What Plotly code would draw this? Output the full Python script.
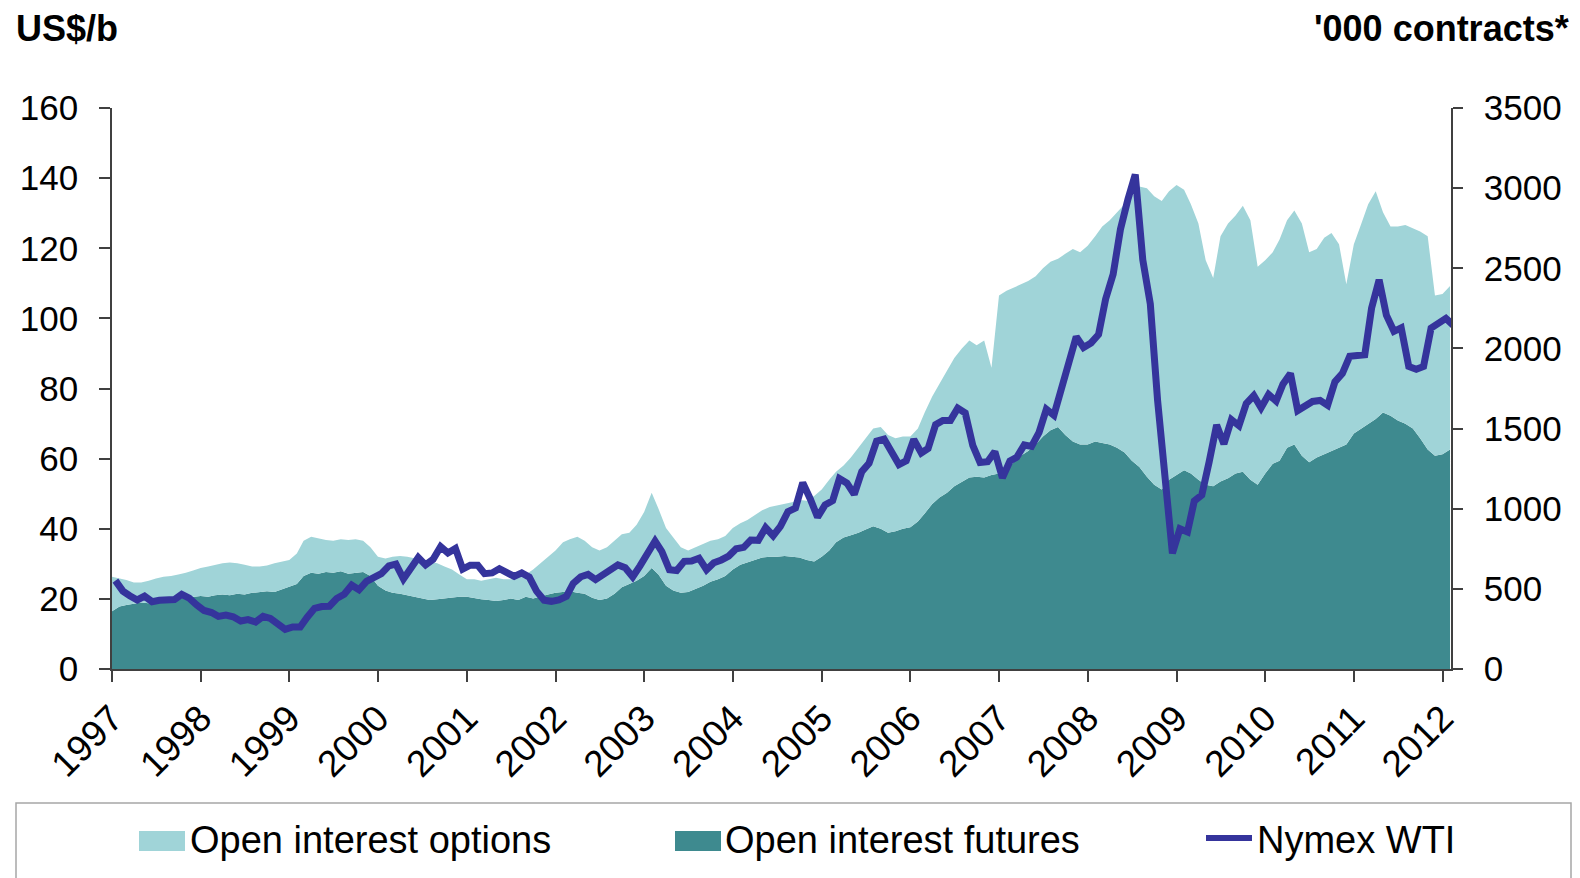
import pandas as pd
import plotly.graph_objects as go

# monthly readings, Jan 1997 .. Feb 2012
months = pd.date_range("1997-01-01", "2012-02-01", freq="MS")

# Nymex WTI, US$/b
wti = [
    25.2, 22.2, 20.9, 19.7, 20.8, 19.2, 19.6, 19.9, 19.8, 21.3, 20.2, 18.3,
    16.7, 16.1, 15.0, 15.4, 14.9, 13.7, 14.1, 13.4, 15.0, 14.4, 12.9, 11.3,
    12.0, 12.0, 14.7, 17.3, 17.8, 17.9, 20.1, 21.3, 23.9, 22.6, 25.0, 26.1,
    27.2, 29.4, 29.9, 25.7, 28.8, 31.8, 29.7, 31.3, 34.9, 33.1, 34.4, 28.5,
    29.6, 29.6, 27.2, 27.4, 28.6, 27.6, 26.4, 27.4, 26.2, 22.2, 19.6, 19.3,
    19.7, 20.7, 24.4, 26.3, 27.0, 25.5, 26.9, 28.4, 29.7, 28.9, 26.3, 29.4,
    32.9, 36.5, 33.5, 28.3, 28.1, 30.7, 30.8, 31.6, 28.3, 30.3, 31.1, 32.2,
    34.3, 34.7, 36.8, 36.7, 40.3, 38.0, 40.7, 44.9, 45.9, 53.1, 48.5, 43.3,
    46.8, 48.0, 54.3, 53.0, 49.8, 56.3, 58.7, 65.0, 65.6, 62.4, 58.3, 59.4,
    65.5, 61.6, 62.9, 69.7, 70.9, 70.9, 74.4, 73.0, 63.8, 58.9, 59.1, 62.0,
    54.5, 59.3, 60.4, 63.9, 63.5, 67.5, 74.1, 72.4, 79.9, 85.8, 94.8, 91.7,
    93.0, 95.4, 105.5, 112.6, 125.4, 134.0, 141.0, 116.7, 104.1, 76.6, 55.0, 33.0,
    40.0, 39.1, 47.9, 49.6, 59.0, 69.6, 64.2, 71.1, 69.4, 75.7, 78.0, 74.5,
    78.3, 76.4, 81.2, 84.3, 73.7, 75.3, 76.3, 76.6, 75.2, 81.9, 84.3, 89.2,
    89.5, 89.6, 102.9, 111.0, 100.9, 96.3, 97.3, 86.3, 85.5, 86.3, 97.2, 98.6,
    100.0, 98.0,
]

# open interest futures, '000 contracts
oi_futures = [
    360, 390, 400, 410, 415, 410, 420, 430, 425, 440, 445, 450,
    455, 450, 460, 465, 460, 470, 465, 475, 480, 485, 480, 495,
    510, 530, 580, 600, 595, 605, 600, 610, 595, 600, 605, 580,
    520, 490, 475, 470, 460, 450, 440, 430, 435, 440, 445, 450,
    450, 440, 435, 430, 425, 430, 440, 430, 450, 440, 455, 465,
    475, 480, 485, 475, 470, 445, 430, 440, 470, 510, 530, 550,
    580, 630, 590, 520, 490, 475, 480, 500, 520, 545, 560, 580,
    620, 650, 665, 680, 695, 700, 700, 705, 700, 695, 680, 670,
    700, 740, 790, 820, 835, 850, 870, 890, 875, 850, 860, 875,
    885, 920, 970, 1030, 1070, 1100, 1140, 1170, 1195, 1200, 1195, 1210,
    1220, 1250, 1290, 1330, 1360, 1400, 1450, 1490, 1510, 1460, 1420, 1400,
    1400, 1420, 1410, 1400, 1380, 1350, 1300, 1260, 1200, 1150, 1120, 1180,
    1210, 1240, 1220, 1180, 1150, 1140, 1170, 1190, 1220, 1230, 1180, 1150,
    1220, 1280, 1300, 1380, 1400, 1330, 1290, 1320, 1340, 1360, 1380, 1400,
    1470, 1500, 1530, 1560, 1600, 1580, 1550, 1530, 1500, 1440, 1370, 1330,
    1340, 1370,
]

# open interest futures + options (top of the stack), '000 contracts
oi_total = [
    575, 565, 555, 540, 540, 550, 565, 575, 580, 590, 600, 615,
    630, 640, 650, 660, 665, 660, 650, 640, 640, 645, 660, 670,
    680, 720, 800, 825, 815, 805, 800, 810, 805, 810, 800, 760,
    700, 690, 700, 705, 700, 690, 680, 670, 660, 640, 620, 590,
    560, 560, 550, 560, 570, 560, 560, 570, 590, 620, 660, 700,
    740, 790, 810, 825, 800, 760, 740, 760, 800, 840, 850, 900,
    980, 1100, 1000, 880, 820, 760, 740, 760, 780, 800, 810, 830,
    880, 910, 930, 960, 990, 1010, 1020, 1030, 1040, 1055, 1050, 1080,
    1120, 1180, 1230, 1270, 1320, 1380, 1440, 1500, 1510, 1460, 1440, 1450,
    1450, 1500, 1600, 1700, 1780, 1860, 1940, 2000, 2050, 2020, 2050, 1880,
    2330, 2360, 2380, 2400, 2420, 2450, 2500, 2540, 2560, 2590, 2620, 2600,
    2640, 2700, 2760, 2800, 2850, 2900, 2950, 3010, 3000, 2950, 2920, 2980,
    3020, 2990, 2900, 2780, 2550, 2440, 2700, 2780, 2830, 2890, 2800, 2510,
    2550, 2600, 2680, 2800, 2860, 2780, 2600, 2620, 2690, 2720, 2650, 2400,
    2650, 2780, 2900, 2980, 2850, 2760, 2760, 2770, 2750, 2730, 2700, 2330,
    2340, 2390,
]

years = list(range(1997, 2013))

FONT = "Liberation Sans, Arial, sans-serif"
C_OPT = "#A0D4D8"
C_FUT = "#3E8A8F"
C_WTI = "#35349C"
AXIS = "#404040"

# the page body adds an 8px margin, so the figure is laid out 8px smaller
OFF = 8
W, H = 1580 - OFF, 878 - OFF
L, R, T, B = 112 - OFF, 1451 - OFF, 108 - OFF, 669 - OFF


def px(x):
    # page pixel -> paper coordinate
    return (x - OFF - L) / (R - L)


def py(y):
    return (B - (y - OFF)) / (B - T)


fig = go.Figure()

fig.add_trace(go.Scatter(x=months, y=oi_futures, mode="lines", fill="tozeroy",
                         fillcolor=C_FUT, line=dict(width=0, color=C_FUT),
                         name="Open interest futures", yaxis="y"))
fig.add_trace(go.Scatter(x=months, y=oi_total, mode="lines", fill="tonexty",
                         fillcolor=C_OPT, line=dict(width=0, color=C_OPT),
                         name="Open interest options", yaxis="y"))
fig.add_trace(go.Scatter(x=months + pd.Timedelta(days=14), y=wti, mode="lines",
                         line=dict(width=7, color=C_WTI), name="Nymex WTI",
                         yaxis="y2"))

tick_font = dict(family=FONT, size=35, color="black")

fig.update_layout(
    width=W, height=H,
    margin=dict(l=L, r=W - R, t=T, b=H - B, autoexpand=False),
    paper_bgcolor="white", plot_bgcolor="white",
    showlegend=False,
    xaxis=dict(
        type="date", range=["1997-01-01", "2012-02-05"],
        tickvals=[f"{y}-01-01" for y in years], ticktext=[str(y) for y in years],
        tickangle=-45, tickfont=dict(family=FONT, size=37, color="black"),
        ticks="outside", ticklen=11,
        tickwidth=1.5, tickcolor=AXIS, showline=True, linecolor=AXIS,
        linewidth=1.5, showgrid=False, zeroline=False,
    ),
    yaxis=dict(
        side="right", range=[0, 3500], dtick=500, tickfont=tick_font,
        ticks="outside", ticklen=10, tickwidth=1.5, tickcolor=AXIS,
        showline=True, linecolor=AXIS, linewidth=1.5, showgrid=False,
        zeroline=False, ticklabelstandoff=14,
    ),
    yaxis2=dict(
        side="left", overlaying="y", range=[0, 160], dtick=20, tickfont=tick_font,
        ticks="outside", ticklen=11, tickwidth=1.5, tickcolor=AXIS,
        showline=True, linecolor=AXIS, linewidth=1.5, showgrid=False,
        zeroline=False, ticklabelstandoff=14,
    ),
)

ann = [
    dict(text="<b>US$/b</b>", x=px(14), y=py(28), xanchor="left", yanchor="middle",
         font=dict(family=FONT, size=36, color="black")),
    dict(text="<b>'000 contracts*</b>", x=px(1571), y=py(28), xanchor="right",
         yanchor="middle", font=dict(family=FONT, size=36, color="black")),
    dict(text="Open interest options", x=px(188), y=py(840), xanchor="left",
         yanchor="middle", font=dict(family=FONT, size=38, color="black")),
    dict(text="Open interest futures", x=px(723), y=py(840), xanchor="left",
         yanchor="middle", font=dict(family=FONT, size=38, color="black")),
    dict(text="Nymex WTI", x=px(1255), y=py(840), xanchor="left",
         yanchor="middle", font=dict(family=FONT, size=38, color="black")),
]
for a in ann:
    a.update(xref="paper", yref="paper", showarrow=False)
fig.update_layout(annotations=ann)

shapes = [
    # legend frame
    dict(type="rect", x0=px(16), x1=px(1571), y0=py(803), y1=py(900),
         line=dict(color="#A6A6A6", width=1.5), fillcolor="rgba(0,0,0,0)"),
    dict(type="rect", x0=px(139), x1=px(185), y0=py(831), y1=py(851),
         line=dict(width=0), fillcolor=C_OPT),
    dict(type="rect", x0=px(675), x1=px(721), y0=py(831), y1=py(851),
         line=dict(width=0), fillcolor=C_FUT),
    dict(type="line", x0=px(1206), x1=px(1252), y0=py(838), y1=py(838),
         line=dict(color=C_WTI, width=6)),
]
for s in shapes:
    s.update(xref="paper", yref="paper", layer="above")
fig.update_layout(shapes=shapes)

fig.write_html("out.html")
